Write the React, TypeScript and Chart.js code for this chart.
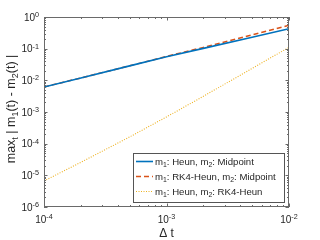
import { useEffect, useRef } from 'react';
import { Chart, registerables } from 'chart.js';
Chart.register(...registerables);

const dtValues = [1e-4, 2e-4, 5e-4, 1e-3, 2e-3, 5e-3, 1e-2];
const heunMidpoint = [6.17e-3, 0.0119, 0.0286, 0.0553, 0.102, 0.23, 0.427];
const rk4HeunMidpoint = [6.17e-3, 0.0119, 0.0288, 0.057, 0.11, 0.272, 0.55];
const heunRk4Heun = [6.63e-6, 2.58e-5, 1.63e-4, 7.0e-4, 3.13e-3, 0.0238, 0.11];
const seriesLabels = [
  'm_1: Heun, m_2: Midpoint',
  'm_1: RK4-Heun, m_2: Midpoint',
  'm_1: Heun, m_2: RK4-Heun',
];
const seriesColors = ['#0072BD', '#D95319', '#EDB120'];
const xTickValues = [1e-4, 1e-3, 1e-2];
const xTickLabels = ['10^{-4}', '10^{-3}', '10^{-2}'];
const yTickValues = [1e-6, 1e-5, 1e-4, 1e-3, 1e-2, 1e-1, 1];
const yTickLabels = ['10^{-6}', '10^{-5}', '10^{-4}', '10^{-3}', '10^{-2}', '10^{-1}', '10^{0}'];
const xTitle = 'Δ t';
const yTitle = 'max_t | m_1(t) - m_2(t) |';

const FONT = '"Liberation Sans", Arial, Helvetica, sans-serif';
const TEXT = '#262626';
const AXIS = '#6a6a6a';

type Seg = { t: string; mode: 'n' | 'sup' | 'sub' };
function parseRich(s: string): Seg[] {
  const segs: Seg[] = [];
  let buf = '';
  let i = 0;
  while (i < s.length) {
    const c = s[i];
    if (c === '^' || c === '_') {
      if (buf) { segs.push({ t: buf, mode: 'n' }); buf = ''; }
      let t = '';
      if (s[i + 1] === '{') {
        const k = s.indexOf('}', i + 1);
        t = s.slice(i + 2, k);
        i = k + 1;
      } else {
        t = s[i + 1];
        i += 2;
      }
      segs.push({ t, mode: c === '^' ? 'sup' : 'sub' });
    } else {
      buf += c;
      i++;
    }
  }
  if (buf) segs.push({ t: buf, mode: 'n' });
  return segs;
}

function drawRich(ctx: CanvasRenderingContext2D, s: string, x: number, y: number, size: number, align: 'left' | 'center' | 'right', color: string) {
  const segs = parseRich(s);
  const small = size * 0.72;
  ctx.textBaseline = 'alphabetic';
  ctx.textAlign = 'left';
  let w = 0;
  const ws: number[] = [];
  for (const sg of segs) {
    ctx.font = `${sg.mode === 'n' ? size : small}px ${FONT}`;
    const m = ctx.measureText(sg.t).width;
    ws.push(m);
    w += m;
  }
  let cx = align === 'left' ? x : align === 'center' ? x - w / 2 : x - w;
  ctx.fillStyle = color;
  segs.forEach((sg, idx) => {
    ctx.font = `${sg.mode === 'n' ? size : small}px ${FONT}`;
    const dy = sg.mode === 'sup' ? -size * 0.36 : sg.mode === 'sub' ? size * 0.24 : 0;
    ctx.fillText(sg.t, cx, y + dy);
    cx += ws[idx];
  });
}

const decorPlugin = {
  id: 'decor',
  afterDraw(chart: any) {
    const ctx: CanvasRenderingContext2D = chart.ctx;
    const { left, right, top, bottom } = chart.chartArea;
    const xs = chart.scales.x;
    const ys = chart.scales.y;
    ctx.save();
    ctx.strokeStyle = AXIS;
    ctx.lineWidth = 1;
    ctx.strokeRect(Math.round(left) + 0.5, Math.round(top) + 0.5, Math.round(right - left) - 1, Math.round(bottom - top) - 1);

    const tick = (x1: number, y1: number, x2: number, y2: number) => {
      ctx.beginPath();
      ctx.moveTo(x1, y1);
      ctx.lineTo(x2, y2);
      ctx.stroke();
    };
    for (let d = -4; d <= -2; d++) {
      for (let k = 1; k <= 9; k++) {
        const v = k * Math.pow(10, d);
        if (v > 1e-2 * 1.0001) continue;
        const px = Math.round(xs.getPixelForValue(v)) + 0.5;
        const len = k === 1 ? 3.5 : 2;
        tick(px, bottom, px, bottom - len);
        tick(px, top, px, top + len);
      }
    }
    for (let d = -6; d <= 0; d++) {
      for (let k = 1; k <= 9; k++) {
        const v = k * Math.pow(10, d);
        if (v > 1.0001) continue;
        const py = Math.round(ys.getPixelForValue(v)) + 0.5;
        const len = k === 1 ? 3.5 : 2;
        tick(left, py, left + len, py);
        tick(right, py, right - len, py);
      }
    }
    xTickValues.forEach((v, i) => {
      drawRich(ctx, xTickLabels[i], xs.getPixelForValue(v), bottom + 16, 10, 'center', TEXT);
    });
    yTickValues.forEach((v, i) => {
      drawRich(ctx, yTickLabels[i], left - 5, ys.getPixelForValue(v) + 3.6, 10, 'right', TEXT);
    });
    drawRich(ctx, xTitle, (left + right) / 2, 237, 12, 'center', TEXT);
    ctx.save();
    ctx.translate(15, (top + bottom) / 2 - 3);
    ctx.rotate(-Math.PI / 2);
    drawRich(ctx, yTitle, 0, 0, 12.5, 'center', TEXT);
    ctx.restore();

    const bx = 133.5, by = 153.5, bw = 151, bh = 49;
    ctx.fillStyle = '#ffffff';
    ctx.fillRect(bx, by, bw, bh);
    ctx.strokeStyle = '#555';
    ctx.lineWidth = 1;
    ctx.strokeRect(bx, by, bw, bh);
    const rows = [161.5, 176.5, 191.5];
    chart.data.datasets.forEach((ds: any, i: number) => {
      const yy = rows[i];
      ctx.strokeStyle = ds.borderColor;
      ctx.lineWidth = ds.borderWidth;
      ctx.setLineDash(ds.borderDash || []);
      ctx.beginPath();
      ctx.moveTo(136, yy);
      ctx.lineTo(153, yy);
      ctx.stroke();
      ctx.setLineDash([]);
      drawRich(ctx, ds.label, 155, yy + 3.3, 9.6, 'left', TEXT);
    });
    ctx.restore();
  },
};

export default function App() {
  const ref = useRef<HTMLCanvasElement | null>(null);
  useEffect(() => {
    if (!ref.current) return;
    const mk = (x: number[], y: number[]) => x.map((v, i) => ({ x: v, y: y[i] }));
    const chart = new Chart(ref.current, {
      type: 'line',
      data: {
        datasets: [
          { label: seriesLabels[0], data: mk(dtValues, heunMidpoint), borderColor: seriesColors[0], borderWidth: 1.6, pointRadius: 0, tension: 0, fill: false },
          { label: seriesLabels[1], data: mk(dtValues, rk4HeunMidpoint), borderColor: seriesColors[1], borderWidth: 1.5, borderDash: [5, 3], pointRadius: 0, tension: 0, fill: false },
          { label: seriesLabels[2], data: mk(dtValues, heunRk4Heun), borderColor: seriesColors[2], borderWidth: 1.1, borderDash: [1, 1.5], pointRadius: 0, tension: 0, fill: false },
        ],
      },
      options: {
        animation: false,
        responsive: false,
        devicePixelRatio: 1,
        layout: { padding: { top: 17, right: 31, left: 0, bottom: 0 } },
        plugins: { legend: { display: false }, tooltip: { enabled: false } },
        scales: {
          x: {
            type: 'logarithmic',
            min: 1e-4,
            max: 1e-2,
            grid: { display: false },
            border: { display: false },
            ticks: { display: false },
            afterBuildTicks: (s: any) => { s.ticks = xTickValues.map((v) => ({ value: v })); },
            afterFit: (s: any) => { s.height = 33; },
          },
          y: {
            type: 'logarithmic',
            min: 1e-6,
            max: 1,
            grid: { display: false },
            border: { display: false },
            ticks: { display: false },
            afterBuildTicks: (s: any) => { s.ticks = yTickValues.map((v) => ({ value: v })); },
            afterFit: (s: any) => { s.width = 44; },
          },
        },
      } as any,
      plugins: [decorPlugin],
    });
    return () => chart.destroy();
  }, []);
  return (
    <div style={{ position: 'absolute', left: 0, top: 0, width: 320, height: 240, background: '#fff' }}>
      <canvas ref={ref} width={320} height={240} style={{ display: 'block', width: 320, height: 240 }} />
    </div>
  );
}
